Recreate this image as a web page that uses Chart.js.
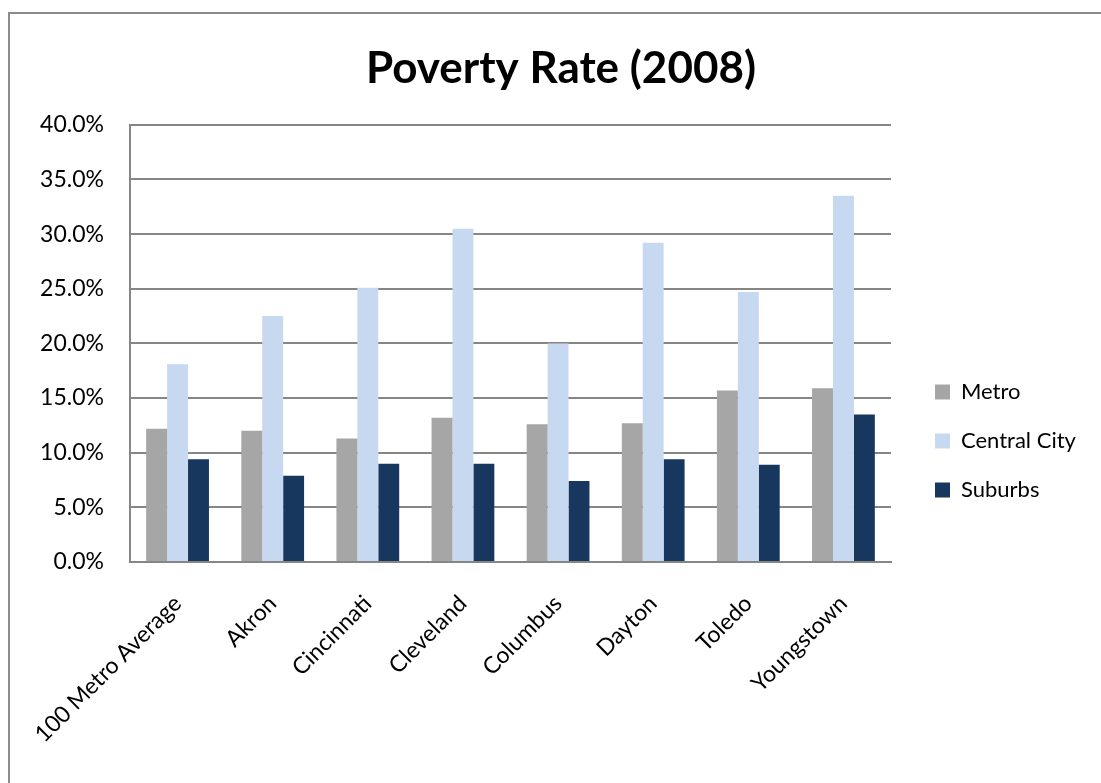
<!DOCTYPE html>
<html>
<head>
<meta charset="utf-8">
<script src="https://cdn.jsdelivr.net/npm/chart.js@4.4.0/dist/chart.umd.min.js"></script>
<style>
html, body { margin: 0; padding: 0; background: #fff; overflow: hidden; }
#box { position: absolute; left: 8px; top: 12px; width: 1106px; height: 854px; border: 2px solid #8c8c8c; background: #fff; }
</style>
</head>
<body>
<div id="box"><canvas id="povertyChart"></canvas></div>
<script>
// 数据
const categories = ['100 Metro Average', 'Akron', 'Cincinnati', 'Cleveland', 'Columbus', 'Dayton', 'Toledo', 'Youngstown'];
const metroRates = [12.2, 12.0, 11.3, 13.2, 12.6, 12.7, 15.7, 15.9];
const centralCityRates = [18.1, 22.5, 25.1, 30.5, 20.0, 29.2, 24.7, 33.5];
const suburbRates = [9.4, 7.9, 9.0, 9.0, 7.4, 9.4, 8.9, 13.5];

const fontFamily = "Lato, 'Noto Sans', sans-serif";
const tickSize = 23;
const legendSize = 22;
const legendPad = 27;

// 绘图区右边界 (画布坐标)
const boxWidth = 1106;
const plotRight = 881;

// 按图例文字宽度算出右侧留白，让绘图区刚好停在 plotRight
const measure = document.createElement('canvas').getContext('2d');
measure.font = legendSize + 'px ' + fontFamily;
const longest = Math.max(...['Metro', 'Central City', 'Suburbs'].map(t => measure.measureText(t).width));
const legendWidth = legendPad + 15 + legendSize / 2 + longest + 10;
const rightPad = Math.max(0, boxWidth - plotRight - legendWidth);

// 图例往右挪一点；标题按整个图表宽度居中
const layoutTweak = {
    id: 'layoutTweak',
    afterLayout(chart) {
        const dx = 925 - chart.chartArea.right - legendPad;
        chart.legend.left += dx;
        chart.legend.right += dx;
        const t = chart.titleBlock;
        const shift = 551 - (t.left + t.right) / 2;
        t.left += shift;
        t.right += shift;
    }
};

const ctx = document.getElementById('povertyChart').getContext('2d');
new Chart(ctx, {
    type: 'bar',
    data: {
        labels: categories,
        datasets: [
            { label: 'Metro', data: metroRates, backgroundColor: '#A6A6A6' },
            { label: 'Central City', data: centralCityRates, backgroundColor: '#C6D9F1' },
            { label: 'Suburbs', data: suburbRates, backgroundColor: '#17375E' }
        ]
    },
    options: {
        responsive: true,
        maintainAspectRatio: false,
        animation: false,
        layout: { padding: { right: rightPad } },
        datasets: {
            bar: { categoryPercentage: 0.66, barPercentage: 1.0 }
        },
        plugins: {
            title: {
                display: true,
                text: 'Poverty Rate (2008)',
                color: '#000',
                font: { family: fontFamily, size: 44, weight: 'bold' },
                padding: { top: 28, bottom: 30 }
            },
            legend: {
                display: true,
                position: 'right',
                labels: {
                    color: '#000',
                    font: { family: fontFamily, size: legendSize },
                    boxWidth: 15,
                    boxHeight: 15,
                    padding: legendPad
                }
            },
            tooltip: { enabled: false }
        },
        scales: {
            x: {
                grid: { display: false, drawTicks: false },
                border: { display: true, color: '#868686', width: 2 },
                ticks: {
                    color: '#000',
                    font: { family: fontFamily, size: tickSize },
                    minRotation: 45,
                    maxRotation: 45,
                    padding: 28
                },
                afterFit(scale) {
                    scale.height = 306;
                    scale.paddingLeft = 0;
                    scale.paddingRight = 0;
                }
            },
            y: {
                min: 0,
                max: 40,
                grid: { color: '#868686', lineWidth: 2, drawTicks: false },
                border: { display: true, color: '#868686', width: 2 },
                ticks: {
                    stepSize: 5,
                    color: '#000',
                    font: { family: fontFamily, size: tickSize },
                    padding: 26,
                    callback: function(value) {
                        return value.toFixed(1) + '%';
                    }
                },
                afterFit(scale) { scale.width = 120; }
            }
        }
    },
    plugins: [layoutTweak]
});
</script>
</body>
</html>
